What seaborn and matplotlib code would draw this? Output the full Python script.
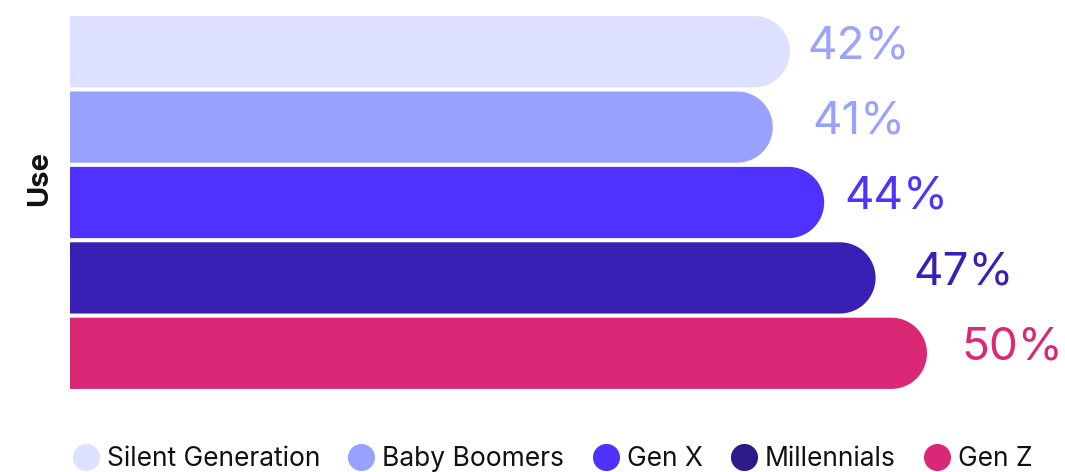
import numpy as np
import pandas as pd
import matplotlib
matplotlib.use("Agg")
import matplotlib.pyplot as plt
from matplotlib.path import Path
from matplotlib.patches import PathPatch
from matplotlib.lines import Line2D
import seaborn as sns

# Survey data: share of each generation that uses the service
category = ["Use"]
generations = ["Silent Generation", "Baby Boomers", "Gen X", "Millennials", "Gen Z"]
values = [42, 41, 44, 47, 50]
value_labels = ["42%", "41%", "44%", "47%", "50%"]

bar_colors = ["#DDE0FE", "#98A2FE", "#5032FE", "#3820B4", "#DA2877"]
label_colors = ["#9AA4FE", "#98A2FE", "#5032FE", "#3820B4", "#DA2877"]
legend_colors = ["#DDE0FE", "#98A2FE", "#5032FE", "#2B1A88", "#DA2877"]
# horizontal gap (points) between each bar end and its value label
label_pads = [12.5, 28.5, 14.5, 27.5, 24.5]

df = pd.DataFrame({
    "question": category * len(generations),
    "generation": generations,
    "value": values,
})

sns.set_theme(style="white")
plt.rcParams["font.family"] = ["Inter", "DejaVu Sans"]

W, H = 1065, 472
fig = plt.figure(figsize=(W / 100, H / 100), dpi=100)
ax_left, ax_top, ax_bottom = 70, 14, 391
ax = fig.add_axes([ax_left / W, (H - ax_bottom) / H, (W - ax_left) / W, (ax_bottom - ax_top) / H])

sns.barplot(data=df, x="value", y="question", hue="generation", hue_order=generations,
            palette=bar_colors, orient="h", gap=0.055, width=0.8, legend=False,
            saturation=1, ax=ax)

xmax = (W - ax_left) / 17.14
ax.set_xlim(0, xmax)
ax.set_ylim(0.4, -0.4)

# pixel scale of the data axes
sx = (W - ax_left) / xmax
sy = (ax_bottom - ax_top) / 0.8

# replace the plain rectangles with bars that have a round right end
bars = [p for p in ax.patches]
bars.sort(key=lambda p: p.get_y())
for p, col in zip(bars, bar_colors):
    x0, y0 = p.get_x(), p.get_y()
    w, h = p.get_width(), p.get_height()
    x1, y1 = x0 + w, y0 + h
    ry = h / 2
    rx = ry * sy / sx
    yc = y0 + ry
    t = np.linspace(-np.pi / 2, np.pi / 2, 60)
    arc = [(x1 - rx + rx * np.cos(a), yc + ry * np.sin(a)) for a in t]
    verts = [(x0, y0), (x1 - rx, y0)] + arc + [(x1 - rx, y1), (x0, y1), (x0, y0)]
    codes = [Path.MOVETO] + [Path.LINETO] * (len(verts) - 2) + [Path.CLOSEPOLY]
    p.set_visible(False)
    ax.add_patch(PathPatch(Path(verts, codes), facecolor=col, edgecolor="none", clip_on=False))

# value labels to the right of each bar
for p, val, lab, col, pad in zip(bars, values, value_labels, label_colors, label_pads):
    yc = p.get_y() + p.get_height() / 2
    ax.annotate(lab, xy=(val, yc), xytext=(pad, 4), textcoords="offset points",
                ha="left", va="center", fontsize=33, color=col)

for s in ax.spines.values():
    s.set_visible(False)
ax.set_xticks([])
ax.set_yticks([])
ax.set_xlabel("")
ax.set_ylabel("Use", fontsize=21, fontweight="bold", color="#111111")
ax.yaxis.set_label_coords(-17 / (W - ax_left), (ax_bottom - 179) / (ax_bottom - ax_top))

handles = [Line2D([0], [0], marker="o", linestyle="", markersize=19.5,
                  markerfacecolor=c, markeredgecolor="none") for c in legend_colors]
fig.legend(handles, generations, loc="center", bbox_to_anchor=(551.5 / W, (H - 459) / H),
           ncol=5, frameon=False, fontsize=19, handletextpad=0.22, columnspacing=0.99,
           handlelength=1.15, borderpad=0, labelcolor="#111111")

fig.savefig("out.png", dpi=100)
